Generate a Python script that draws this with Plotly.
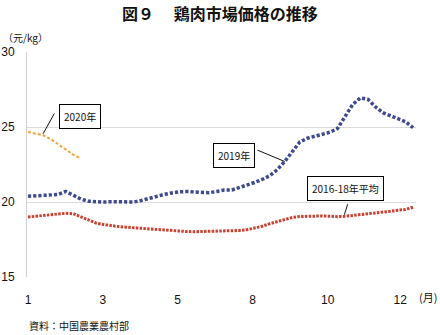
import plotly.graph_objects as go

# Weekly chicken market prices (yuan/kg)
weeks_2019 = list(range(1, 53))
price_2019 = [
    20.38, 20.40, 20.42, 20.45, 20.50, 20.70, 20.45, 20.20, 20.05, 20.00,
    20.00, 20.02, 20.00, 20.02, 20.00, 20.10, 20.25, 20.40, 20.50, 20.60,
    20.68, 20.70, 20.68, 20.65, 20.62, 20.70, 20.80, 20.80, 20.95, 21.10,
    21.30, 21.50, 21.75, 22.15, 22.70, 23.35, 24.00, 24.25, 24.40, 24.50,
    24.65, 24.90, 25.67, 26.50, 26.93, 26.85, 26.35, 25.95, 25.75, 25.55,
    25.35, 24.95,
]
weeks_avg = list(range(1, 53))
price_avg = [
    19.00, 19.05, 19.10, 19.15, 19.22, 19.25, 19.22, 19.00, 18.78, 18.60,
    18.50, 18.42, 18.36, 18.32, 18.28, 18.25, 18.22, 18.18, 18.12, 18.08,
    18.05, 18.03, 18.02, 18.03, 18.03, 18.06, 18.08, 18.10, 18.10, 18.15,
    18.25, 18.38, 18.55, 18.70, 18.85, 18.97, 19.03, 19.05, 19.07, 19.07,
    19.05, 19.02, 19.05, 19.10, 19.14, 19.20, 19.26, 19.32, 19.38, 19.45,
    19.50, 19.65,
]
weeks_2020 = list(range(1, 9))
price_2020 = [24.67, 24.55, 24.45, 24.20, 23.85, 23.50, 23.15, 22.90]

month_labels = ["1", "3", "5", "8", "10", "12"]
month_weeks = [1, 10.9, 20.8, 30.75, 40.7, 50.3]

FONT = "Noto Sans CJK JP"
NUM_FONT = "Liberation Sans"

# Plot area in pixels
L, R, T, B, W, H = 27, 24, 52, 58, 440, 335
PW, PH = W - L - R, H - T - B


def px(x):
    return (x - L) / PW


def py(y):
    return (H - B - y) / PH


fig = go.Figure()
fig.add_trace(go.Scatter(
    x=weeks_avg, y=price_avg, mode="lines", name="2016-18年平均",
    line=dict(color="#c8412f", width=3, dash="2.5px,1.3px"),
))
fig.add_trace(go.Scatter(
    x=weeks_2019, y=price_2019, mode="lines", name="2019年",
    line=dict(color="#3d4a8c", width=3.5, dash="3.2px,2px"),
))
fig.add_trace(go.Scatter(
    x=weeks_2020, y=price_2020, mode="lines", name="2020年",
    line=dict(color="#f0a43a", width=2, dash="3px,2px"),
))

box = dict(showarrow=False, bordercolor="#000", borderwidth=1, borderpad=4,
           bgcolor="white", font=dict(family=FONT, size=10, color="#111"))
arrow = dict(text="", showarrow=True, arrowhead=0, arrowwidth=1,
             arrowcolor="#111", axref="x", ayref="y")

# Series labels with leader lines
fig.add_annotation(x=weeks_2020[2], y=price_2020[2] + 0.1, ax=4.6, ay=26.0, **arrow)
fig.add_annotation(x=7.9, y=25.67, text="2020年", **box)
fig.add_annotation(x=weeks_2019[34], y=price_2019[34], ax=31.2, ay=23.5, **arrow)
fig.add_annotation(x=28.3, y=23.07, text="2019年", **box)
fig.add_annotation(x=weeks_avg[42] - 0.1, y=price_avg[42] + 0.1, ax=43.4, ay=19.95, **arrow)
fig.add_annotation(x=43.0, y=20.87, text="2016-18年平均", **box)

# Title, unit and source
fig.add_annotation(xref="paper", yref="paper", xanchor="center", yanchor="middle",
                   x=px(220), y=py(13), showarrow=False,
                   text="<b>図９　 鶏肉市場価格の推移</b>",
                   font=dict(family=FONT, size=16, color="#111"))
fig.add_annotation(xref="paper", yref="paper", xanchor="left", yanchor="middle",
                   x=px(1), y=py(37), showarrow=False,
                   text="（元/kg）", font=dict(family=FONT, size=10, color="#111"))
fig.add_annotation(xref="paper", yref="paper", xanchor="right", yanchor="middle",
                   x=px(439), y=py(297), showarrow=False,
                   text="(月)", font=dict(family=FONT, size=11, color="#111"))
fig.add_annotation(xref="paper", yref="paper", xanchor="left", yanchor="middle",
                   x=px(27), y=py(325), showarrow=False,
                   text="資料：中国農業農村部", font=dict(family=FONT, size=10, color="#111"))

fig.update_layout(
    width=W, height=H,
    margin=dict(l=L, r=R, t=T, b=B),
    plot_bgcolor="white", paper_bgcolor="white",
    showlegend=False,
    font=dict(family=FONT, size=11, color="#111"),
)
fig.update_xaxes(
    range=[0.87, 52.39], tickvals=month_weeks, ticktext=month_labels,
    showgrid=False, zeroline=False, showline=False, automargin=False,
    ticks="outside", ticklen=12, tickcolor="rgba(0,0,0,0)",
    tickfont=dict(family=NUM_FONT, size=12, color="#111"),
)
fig.update_yaxes(
    range=[15, 30], tickvals=[15, 20, 25, 30],
    showgrid=True, gridcolor="#dcdcdc", gridwidth=1, zeroline=False,
    showline=True, linecolor="#d0d0d0", linewidth=1, automargin=False,
    ticks="outside", ticklen=9, tickcolor="rgba(0,0,0,0)",
    tickfont=dict(family=NUM_FONT, size=12, color="#111"),
)

fig.write_html("out.html")
